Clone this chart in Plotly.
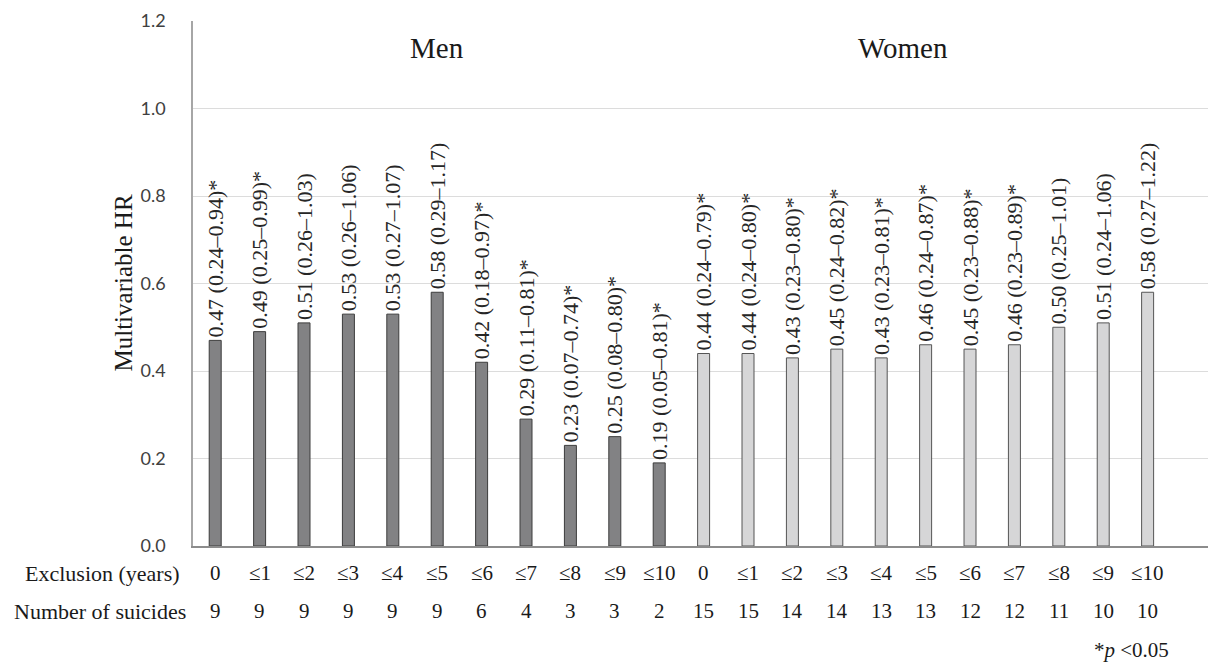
import plotly.graph_objects as go

exclusion = ["0", "≤1", "≤2", "≤3", "≤4", "≤5", "≤6", "≤7", "≤8", "≤9", "≤10"]

men_hr = [0.47, 0.49, 0.51, 0.53, 0.53, 0.58, 0.42, 0.29, 0.23, 0.25, 0.19]
men_lo = [0.24, 0.25, 0.26, 0.26, 0.27, 0.29, 0.18, 0.11, 0.07, 0.08, 0.05]
men_hi = [0.94, 0.99, 1.03, 1.06, 1.07, 1.17, 0.97, 0.81, 0.74, 0.80, 0.81]
men_sig = [True, True, False, False, False, False, True, True, True, True, True]
men_n = [9, 9, 9, 9, 9, 9, 6, 4, 3, 3, 2]

women_hr = [0.44, 0.44, 0.43, 0.45, 0.43, 0.46, 0.45, 0.46, 0.50, 0.51, 0.58]
women_lo = [0.24, 0.24, 0.23, 0.24, 0.23, 0.24, 0.23, 0.23, 0.25, 0.24, 0.27]
women_hi = [0.79, 0.80, 0.80, 0.82, 0.81, 0.87, 0.88, 0.89, 1.01, 1.06, 1.22]
women_sig = [True, True, True, True, True, True, True, True, False, False, False]
women_n = [15, 15, 14, 14, 13, 13, 12, 12, 11, 10, 10]

SERIF = "Liberation Serif"
SANS = "Lato"


def labels(hr, lo, hi, sig):
    return [f"{h:.2f} ({l:.2f}–{u:.2f})" + ("*" if s else "") for h, l, u, s in zip(hr, lo, hi, sig)]


men_x = list(range(len(men_hr)))
women_x = list(range(len(men_hr), len(men_hr) + len(women_hr)))

fig = go.Figure()
fig.add_trace(go.Bar(
    x=men_x, y=men_hr, width=0.27,
    marker=dict(color="#828284", line=dict(color="#3c3c3c", width=1)),
    text=labels(men_hr, men_lo, men_hi, men_sig),
    textposition="outside", textangle=-90, constraintext="none", cliponaxis=False,
    textfont=dict(family=SERIF, size=22, color="#262626"),
    hoverinfo="skip", showlegend=False,
))
fig.add_trace(go.Bar(
    x=women_x, y=women_hr, width=0.27,
    marker=dict(color="#d6d6d7", line=dict(color="#555555", width=1)),
    text=labels(women_hr, women_lo, women_hi, women_sig),
    textposition="outside", textangle=-90, constraintext="none", cliponaxis=False,
    textfont=dict(family=SERIF, size=22, color="#262626"),
    hoverinfo="skip", showlegend=False,
))

annotations = []
all_x = men_x + women_x
all_excl = exclusion + exclusion
all_n = men_n + women_n
for xi, ex, n in zip(all_x, all_excl, all_n):
    annotations.append(dict(x=xi, y=0, xref="x", yref="paper", text=ex, showarrow=False,
                            yshift=-27, yanchor="middle", xanchor="center",
                            font=dict(family=SERIF, size=21, color="#1a1a1a")))
    annotations.append(dict(x=xi, y=0, xref="x", yref="paper", text=str(n), showarrow=False,
                            yshift=-65, yanchor="middle", xanchor="center",
                            font=dict(family=SERIF, size=21, color="#1a1a1a")))

annotations += [
    dict(x=0, y=0, xref="paper", yref="paper", xshift=-11, yshift=-27, xanchor="right", yanchor="middle",
         text="Exclusion (years)", showarrow=False, font=dict(family=SERIF, size=22, color="#1a1a1a")),
    dict(x=0, y=0, xref="paper", yref="paper", xshift=-5, yshift=-65, xanchor="right", yanchor="middle",
         text="Number of suicides", showarrow=False, font=dict(family=SERIF, size=22, color="#1a1a1a")),
    dict(x=5, y=1.2, xref="x", yref="y", yshift=-27, xanchor="center", yanchor="middle",
         text="Men", showarrow=False, font=dict(family=SERIF, size=29, color="#1a1a1a")),
    dict(x=15.5, y=1.2, xref="x", yref="y", yshift=-27, xanchor="center", yanchor="middle",
         text="Women", showarrow=False, font=dict(family=SERIF, size=29, color="#1a1a1a")),
    dict(x=20.63, y=0, xref="x", yref="paper", yshift=-104, xanchor="center", yanchor="middle",
         text="*<i>p</i> <0.05", showarrow=False, font=dict(family=SERIF, size=21, color="#1a1a1a")),
    dict(x=0, y=0.5, xref="paper", yref="paper", xshift=-70, xanchor="center", yanchor="middle",
         textangle=-90, text="Multivariable HR", showarrow=False,
         font=dict(family=SERIF, size=25, color="#1a1a1a")),
]

fig.update_layout(
    width=1208, height=666,
    margin=dict(l=193, r=0, t=21, b=120),
    paper_bgcolor="white", plot_bgcolor="white",
    bargap=0.73,
    annotations=annotations,
    xaxis=dict(range=[-0.5, 22.36], showticklabels=False, showgrid=False, zeroline=False,
               showline=True, linecolor="#8c8c8c", linewidth=1.5, ticks=""),
    yaxis=dict(range=[0, 1.2], dtick=0.2, tick0=0, tickformat=".1f",
               showgrid=True, gridcolor="#dcdcdc", gridwidth=1, zeroline=False,
               showline=True, linecolor="#a6a6a6", linewidth=1.5, ticks="",
               ticklabelstandoff=22,
               tickfont=dict(family=SANS, size=18, color="#404040")),
)

fig.write_html("out.html")
